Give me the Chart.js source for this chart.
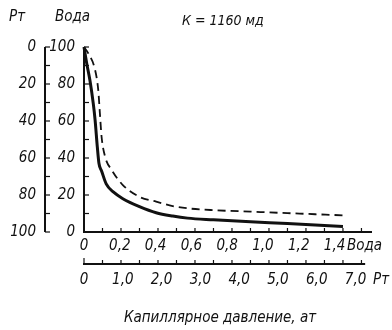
<!DOCTYPE html>
<html>
<head>
<meta charset="utf-8">
<script src="https://cdn.jsdelivr.net/npm/chart.js@4"></script>
<style>
  body { margin: 0; background: #fff; }
  #wrap { width: 392px; height: 330px; }
</style>
</head>
<body>
<div id="wrap"><canvas id="capChart" width="392" height="330"></canvas></div>
<script>
// Solid curve: water saturation (%) vs capillary pressure (water scale, at)
const solidPress = [0, 0.015, 0.032, 0.05, 0.06, 0.072, 0.081, 0.095, 0.12, 0.16, 0.21, 0.3, 0.39, 0.48, 0.56, 0.7, 0.9, 1.1, 1.25, 1.4];
const solidSat = [100, 91, 82, 69.5, 60.5, 46, 37, 33, 26, 21.5, 18, 13.7, 10.4, 8.6, 7.5, 6.6, 5.5, 4.6, 3.8, 3];

// Dashed curve
const dashedPress = [0, 0.023, 0.06, 0.077, 0.086, 0.095, 0.114, 0.15, 0.21, 0.3, 0.39, 0.48, 0.56, 0.7, 0.9, 1.1, 1.25, 1.4];
const dashedSat = [100, 96.6, 87.6, 76.8, 64, 51.5, 40.7, 33.5, 25.4, 19, 16.4, 14, 12.8, 11.8, 11, 10.2, 9.6, 9];

// Tick labels
const waterXTicks = [0, 0.2, 0.4, 0.6, 0.8, 1.0, 1.2, 1.4];
const ptXTicks = [0, 1, 2, 3, 4, 5, 6, 7];
const waterYTicks = [100, 80, 60, 40, 20, 0];
const ptYTicks = [0, 20, 40, 60, 80, 100];

const titleText = "К = 1160 мд";
const xTitle = "Капиллярное давление, ат";

const FONT = "italic 15px 'Liberation Sans Narrow', 'DejaVu Sans Condensed', sans-serif";

function fmt(v, digits) {
  return v === 0 ? "0" : v.toFixed(digits).replace(".", ",");
}

// Draw the double axes by hand, through the chart's scales
const axesPlugin = {
  id: "doubleAxes",
  afterDraw(chart) {
    const ctx = chart.ctx;
    const x = chart.scales.x;
    const y = chart.scales.y;
    const xPt = chart.scales.xPt;
    const yPt = chart.scales.yPt;
    const ptAxisX = 45;
    const ptAxisY = 264;

    ctx.save();
    ctx.strokeStyle = "#111";
    ctx.fillStyle = "#111";
    ctx.lineCap = "butt";

    // water y axis
    ctx.lineWidth = 2;
    ctx.beginPath();
    ctx.moveTo(x.left, y.getPixelForValue(0) + 1);
    ctx.lineTo(x.left, y.getPixelForValue(100));
    ctx.stroke();
    ctx.lineWidth = 1.2;
    for (let v = 10; v <= 100; v += 10) {
      const py = y.getPixelForValue(v);
      ctx.beginPath();
      ctx.moveTo(x.left, py);
      ctx.lineTo(x.left + 5, py);
      ctx.stroke();
    }

    // Pt y axis
    ctx.lineWidth = 2;
    ctx.beginPath();
    ctx.moveTo(ptAxisX, yPt.getPixelForValue(0));
    ctx.lineTo(ptAxisX, yPt.getPixelForValue(100));
    ctx.stroke();
    ctx.lineWidth = 1.2;
    for (let v = 0; v <= 100; v += 10) {
      const py = yPt.getPixelForValue(v);
      ctx.beginPath();
      ctx.moveTo(ptAxisX, py);
      ctx.lineTo(ptAxisX + 5, py);
      ctx.stroke();
    }

    // water x axis
    ctx.lineWidth = 2;
    ctx.beginPath();
    ctx.moveTo(x.getPixelForValue(0) - 1, y.bottom);
    ctx.lineTo(x.right, y.bottom);
    ctx.stroke();
    ctx.lineWidth = 1.2;
    for (let i = 1; i <= 15; i++) {
      const px = x.getPixelForValue(i / 10);
      ctx.beginPath();
      ctx.moveTo(px, y.bottom);
      ctx.lineTo(px, y.bottom - 4);
      ctx.stroke();
    }

    // Pt x axis
    ctx.lineWidth = 2;
    ctx.beginPath();
    ctx.moveTo(xPt.getPixelForValue(0) - 1, ptAxisY);
    ctx.lineTo(xPt.getPixelForValue(7.6), ptAxisY);
    ctx.stroke();
    ctx.lineWidth = 1.2;
    for (let i = 0; i <= 15; i++) {
      const px = xPt.getPixelForValue(i / 2);
      ctx.beginPath();
      ctx.moveTo(px, ptAxisY);
      ctx.lineTo(px, ptAxisY - (i === 0 ? 6 : 4));
      ctx.stroke();
    }

    // labels
    ctx.font = FONT;
    ctx.textBaseline = "middle";
    ctx.textAlign = "right";
    ptYTicks.forEach((v) => ctx.fillText(String(v), 36, yPt.getPixelForValue(v)));
    waterYTicks.forEach((v) => ctx.fillText(String(v), 75, y.getPixelForValue(v)));

    // the printed labels drift a little off their ticks, as in the scan
    ctx.textAlign = "center";
    waterXTicks.forEach((v) => ctx.fillText(fmt(v, 1), x.getPixelForValue(v) - v * 6, 246));
    ptXTicks.forEach((v) => ctx.fillText(fmt(v, 1), xPt.getPixelForValue(v) + v * 1.8, 280));

    ctx.textAlign = "left";
    ctx.fillText("Вода", 347, 246);
    ctx.fillText("Рт", 373, 280);
    ctx.fillText("Рт", 9, 17);
    ctx.fillText("Вода", 55, 17);
    ctx.font = "italic 14px 'Liberation Sans Narrow', 'DejaVu Sans Condensed', sans-serif";
    ctx.fillText(titleText, 182, 21);

    ctx.font = FONT;
    ctx.textAlign = "center";
    ctx.fillText(xTitle, 220, 318);
    ctx.restore();
  },
};

const ctx = document.getElementById("capChart").getContext("2d");
new Chart(ctx, {
  type: "scatter",
  data: {
    datasets: [
      {
        data: solidPress.map((p, i) => ({ x: p, y: solidSat[i] })),
        showLine: true,
        borderColor: "#111",
        borderWidth: 3,
        pointRadius: 0,
        cubicInterpolationMode: "monotone",
        clip: false,
      },
      {
        data: dashedPress.map((p, i) => ({ x: p, y: dashedSat[i] })),
        showLine: true,
        borderColor: "#111",
        borderWidth: 1.8,
        borderDash: [8, 5],
        pointRadius: 0,
        cubicInterpolationMode: "monotone",
        clip: false,
      },
    ],
  },
  options: {
    responsive: false,
    animation: false,
    layout: { padding: { left: 84, right: 20, top: 47, bottom: 98 } },
    plugins: { legend: { display: false }, tooltip: { enabled: false } },
    scales: {
      x: { type: "linear", min: 0, max: 1.557, display: false },
      y: { type: "linear", min: 0, max: 100, display: false },
      xPt: { type: "linear", axis: "x", min: 0, max: 7.785, display: false },
      yPt: { type: "linear", axis: "y", min: 0, max: 100, reverse: true, display: false },
    },
  },
  plugins: [axesPlugin],
});
</script>
</body>
</html>
